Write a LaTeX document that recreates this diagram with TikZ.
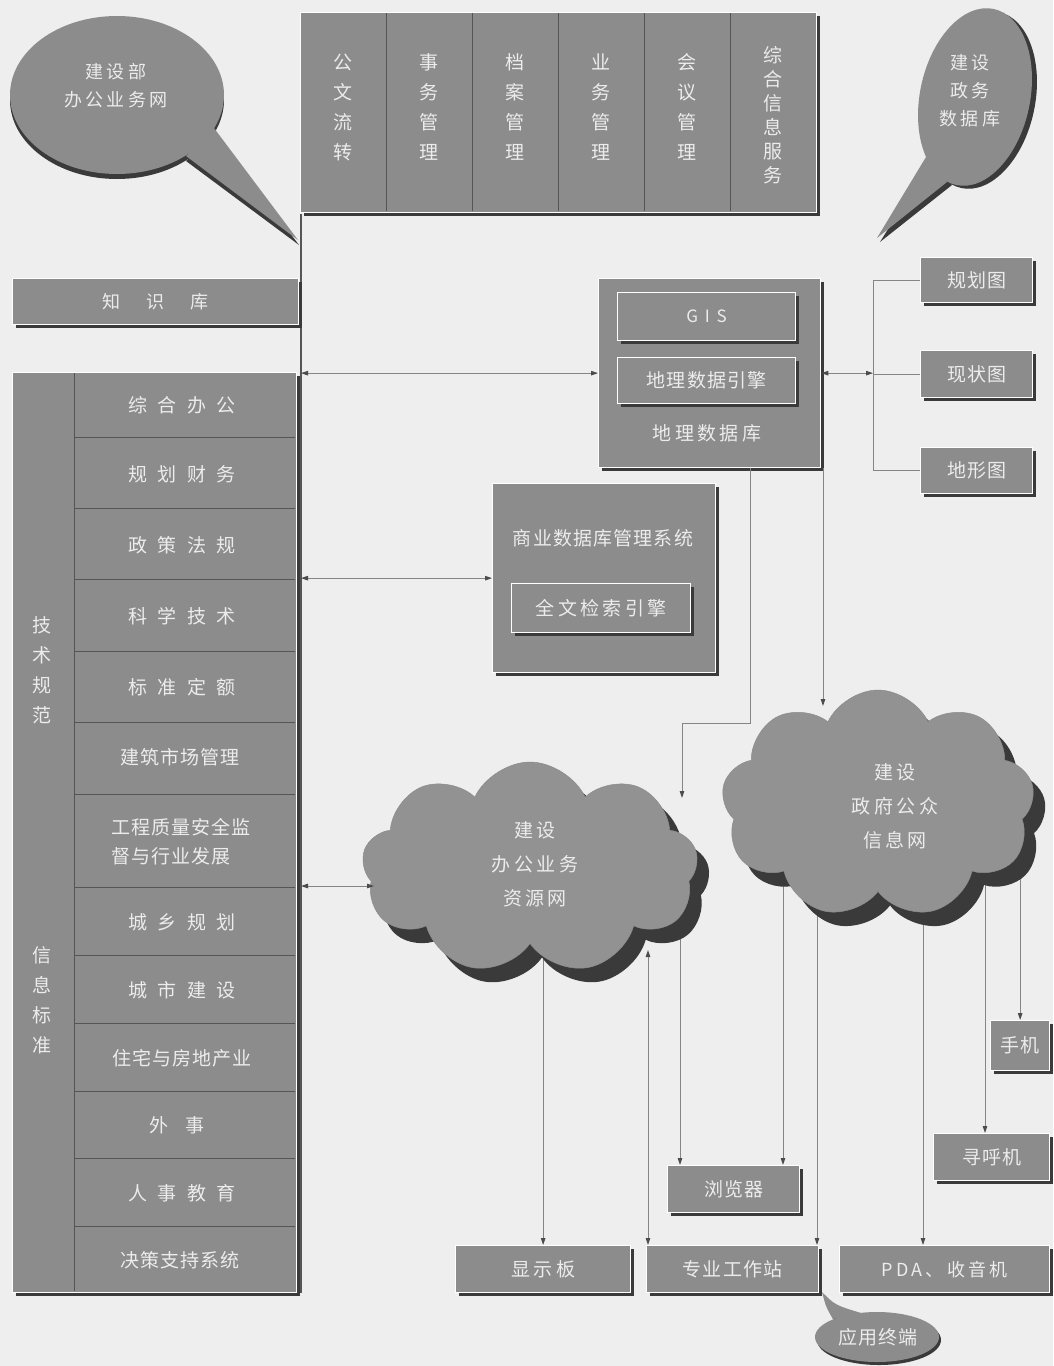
\documentclass[tikz,border=0pt]{standalone}
\usepackage{fontspec}
\setmainfont{Noto Sans CJK SC}
\newfontfamily\fW[LetterSpace=55]{Noto Sans CJK SC}
\newfontfamily\fM[LetterSpace=18]{Noto Sans CJK SC}
\newfontfamily\fS[LetterSpace=6]{Noto Sans CJK SC}
\newfontfamily\fG[LetterSpace=40]{Noto Sans CJK SC}
\usetikzlibrary{shapes.symbols,shadows,arrows.meta}
\definecolor{bg}{HTML}{EEEEEE}
\definecolor{boxg}{HTML}{8C8C8C}
\definecolor{cldg}{HTML}{929292}
\definecolor{txt}{HTML}{ECECEC}
\definecolor{shd}{HTML}{3A3A3A}
\definecolor{ln}{HTML}{858585}
\definecolor{divc}{HTML}{555555}
\tikzset{
  box/.style={draw=white, line width=1.3pt, fill=boxg, text=txt, inner sep=0pt, anchor=north west,
    font=\fS\fontsize{19}{23}\selectfont,
    drop shadow={shadow xshift=3pt, shadow yshift=-3pt, fill=shd, opacity=1}},
  lbl/.style={text=txt, inner sep=0pt, align=center, font=\fS\fontsize{19}{23}\selectfont},
  wlbl/.style={lbl, font=\fW\fontsize{19}{23}\selectfont},
  vlbl/.style={lbl, font=\fontsize{19}{30}\selectfont},
  conn/.style={draw=ln, line width=0.9pt},
  divl/.style={draw=divc, line width=1pt},
  cloudsh/.style={cloud, cloud puffs=9, cloud puff arc=130, cloud ignores aspect, inner sep=0pt},
}
\begin{document}
\begin{tikzpicture}[x=1pt,y=-1pt,>={Triangle[length=7pt,width=4.5pt,color=black!70]}]
\fill[bg] (0,0) rectangle (1053,1366);
\useasboundingbox (0,0) rectangle (1053,1366);

% ---------- speech bubble top left ----------
\fill[shd] (117,100) ellipse [x radius=107, y radius=79];
\fill[shd] (214,133) -- (299,245) -- (186,161) -- cycle;
\fill[boxg] (117,95) ellipse [x radius=107, y radius=79];
\fill[boxg] (214,128) -- (298,240) -- (186,156) -- cycle;
\node[lbl, font=\fM\fontsize{18}{28}\selectfont] (b1t) at (116,86) {建设部\\办公业务网};

% ---------- speech bubble top right ----------
\fill[shd, rotate around={-12:(980,100)}] (980,100) ellipse [x radius=55, y radius=90];
\fill[shd] (931,160) -- (880,242) -- (952,185) -- cycle;
\fill[boxg, rotate around={-12:(975,97)}] (975,97) ellipse [x radius=55, y radius=90];
\fill[boxg] (926,157) -- (877,238) -- (947,182) -- cycle;
\node[lbl, font=\fM\fontsize{18}{28}\selectfont] (b2t) at (970,91) {建设\\政务\\数据库};

% ---------- bus line ----------
\coordinate (busT) at (301,214);
\coordinate (busB) at (301,1293);
\draw[divl, line width=1.4pt] (busT) -- (busB);

% ---------- top module box ----------
\node[box, minimum width=516, minimum height=200] (top) at (300,12) {};
\foreach \i in {1,...,5} \draw[divl] ({300+86*\i},13) -- ({300+86*\i},211);
\node[vlbl] (t1) at (343,107) {公\\文\\流\\转};
\node[vlbl] (t2) at (429,107) {事\\务\\管\\理};
\node[vlbl] (t3) at (515,107) {档\\案\\管\\理};
\node[vlbl] (t4) at (601,107) {业\\务\\管\\理};
\node[vlbl] (t5) at (687,107) {会\\议\\管\\理};
\node[lbl, font=\fontsize{19}{24}\selectfont] (t6) at (773,115) {综\\合\\信\\息\\服\\务};

% ---------- knowledge base ----------
\node[box, minimum width=286, minimum height=46, font=\fontsize{18}{22}\selectfont] (kb) at (12,278) {知\hspace{26pt}识\hspace{26pt}库};

% ---------- left panel ----------
\node[box, minimum width=284, minimum height=920] (lp) at (12,372) {};
\draw[divl] (74,373) -- (74,1291);
\foreach \y in {437,508,579,651,722,794,887,955,1023,1091,1158,1226} \draw[divl] (74,\y) -- (295,\y);
\node[vlbl] (v1) at (42,670) {技\\术\\规\\范};
\node[vlbl] (v2) at (42,1000) {信\\息\\标\\准};
\node[wlbl] (r1) at (182,405) {综合办公};
\node[wlbl] (r2) at (182,474) {规划财务};
\node[wlbl] (r3) at (182,545) {政策法规};
\node[wlbl] (r4) at (182,616) {科学技术};
\node[wlbl] (r5) at (182,687) {标准定额};
\node[lbl] (r6) at (180,757) {建筑市场管理};
\node[lbl, align=left, font=\fS\fontsize{19}{29}\selectfont] (r7) at (181,842) {工程质量安全监\\督与行业发展};
\node[wlbl] (r8) at (182,922) {城乡规划};
\node[wlbl] (r9) at (182,990) {城市建设};
\node[lbl] (r10) at (182,1058) {住宅与房地产业};
\node[lbl] (r11) at (177,1125) {外\hspace{18pt}事};
\node[wlbl] (r12) at (182,1193) {人事教育};
\node[lbl] (r13) at (180,1260) {决策支持系统};

% ---------- geo database ----------
\node[box, minimum width=222, minimum height=189] (geo) at (598,278) {};
\node[box, minimum width=178, minimum height=48, font=\fG\fontsize{17}{20}\selectfont] (gis) at (617,292) {GIS};
\node[box, minimum width=178, minimum height=46] (eng) at (617,357) {地理数据引擎};
\node[lbl, font=\fM\fontsize{19}{23}\selectfont] (geot) at (707,433) {地理数据库};

% ---------- commercial DBMS ----------
\node[box, minimum width=223, minimum height=189] (sdb) at (492,483) {};
\node[lbl] (sdbt) at (603,538) {商业数据库管理系统};
\node[box, minimum width=179, minimum height=49, font=\fM\fontsize{19}{23}\selectfont] (ftx) at (511,583) {全文检索引擎};

% ---------- map boxes ----------
\node[box, minimum width=112, minimum height=45] (g1) at (920,257) {规划图};
\node[box, minimum width=112, minimum height=47] (g2) at (920,350) {现状图};
\node[box, minimum width=112, minimum height=46] (g3) at (920,447) {地形图};

% ---------- terminal boxes ----------
\node[box, minimum width=175, minimum height=47, font=\fM\fontsize{19}{23}\selectfont] (disp) at (455,1245) {显示板};
\node[box, minimum width=172, minimum height=47] (ws) at (646,1245) {专业工作站};
\node[box, minimum width=210, minimum height=47, font=\fM\fontsize{18}{23}\selectfont] (pda) at (839,1245) {PDA、收音机};
\node[box, minimum width=132, minimum height=47] (brw) at (667,1165) {浏览器};
\node[box, minimum width=116, minimum height=47] (pgr) at (933,1133) {寻呼机};
\node[box, minimum width=59, minimum height=50] (mob) at (990,1020) {手机};

% ---------- application terminal bubble ----------
\fill[shd] (879,1340) ellipse [x radius=62, y radius=25];
\fill[shd] (835,1322) .. controls (828,1310) .. (824,1295) .. controls (837,1308) .. (863,1316) -- cycle;
\fill[boxg] (877,1337) ellipse [x radius=62, y radius=25];
\fill[boxg] (833,1319) .. controls (826,1307) .. (822,1292) .. controls (835,1305) .. (861,1313) -- cycle;
\node[lbl] (b3t) at (878,1337) {应用终端};

% ---------- cloud positions ----------
\coordinate (c1c) at (530,868);
\coordinate (c2c) at (878,804);
\coordinate (k680) at (680,0);
\coordinate (k783) at (783,0);
\coordinate (k818) at (817,0);
\coordinate (k923) at (923,0);
\coordinate (k985) at (985,0);
\coordinate (k750) at (750,0);
\coordinate (k823) at (823,0);
\coordinate (jx) at (873,0);

% outgoing lines (start hidden under clouds)
\draw[conn,->] (c1c -| disp.north) -- (disp.north);
\draw[conn,->] (c1c -| k680) -- (k680 |- brw.north);
\draw[conn,->] (c2c -| k783) -- (k783 |- brw.north);
\draw[conn,->] (c2c -| k818) -- (k818 |- ws.north);
\draw[conn,->] (c2c -| k923) -- (k923 |- pda.north);
\draw[conn,->] (c2c -| k985) -- (k985 |- pgr.north);
\draw[conn,->] (c2c -| mob.north) -- (mob.north);

% clouds
\node[cloudsh, fill=shd, minimum width=336, minimum height=212] (c1s) at (542,882) {};
\node[cloudsh, fill=cldg, draw=black!45, line width=0.5pt, minimum width=336, minimum height=212] (c1) at (c1c) {};
\node[cloudsh, fill=shd, minimum width=313, minimum height=228] (c2s) at (890,818) {};
\node[cloudsh, fill=cldg, draw=black!45, line width=0.5pt, minimum width=313, minimum height=228] (c2) at (c2c) {};
\node[lbl, font=\fM\fontsize{19}{34}\selectfont] (c1t) at (535,864) {建设\\办公业务\\资源网};
\node[lbl, font=\fM\fontsize{19}{34}\selectfont] (c2t) at (895,806) {建设\\政府公众\\信息网};

% ---------- connectors ----------
\draw[conn,<->] (busT |- geo.west) -- (geo.west);
\draw[conn,<->] (busT |- sdb.west) -- (sdb.west);
\coordinate (c1w) at (374,886);
\draw[conn,<->] (busT |- c1w) -- (c1w);

\draw[conn,<->] (geo.east) -- (geo.east -| jx);
\draw[conn] (g1.west) -- (g1.west -| jx) -- (g3.west -| jx) -- (g3.west);
\draw[conn] (g2.west -| jx) -- (g2.west);

\coordinate (c1in) at (682,798);
\coordinate (c2in) at (823,706);
\draw[conn,->] (geo.south -| k750) -- ++(0,255) -| (c1in);
\draw[conn,->] (geo.south -| k823) -- (c2in);

\coordinate (c1b) at (648,950);
\draw[conn,<->] (c1b) -- (c1b |- ws.north);
\end{tikzpicture}
\end{document}
